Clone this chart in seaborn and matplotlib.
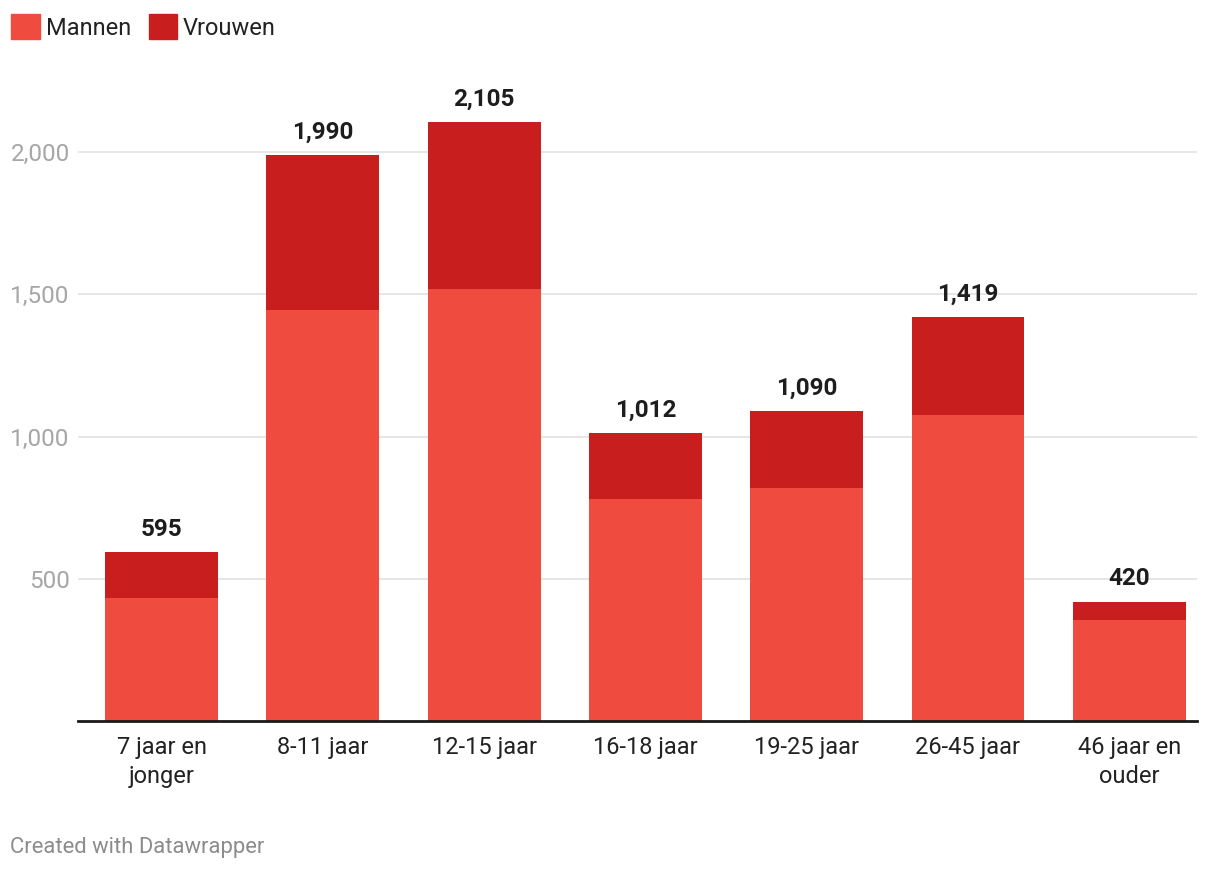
import matplotlib
matplotlib.use("Agg")
import matplotlib.pyplot as plt
import seaborn as sns
import pandas as pd
from matplotlib.patches import Rectangle

categories = ["7 jaar en\njonger", "8-11 jaar", "12-15 jaar", "16-18 jaar",
              "19-25 jaar", "26-45 jaar", "46 jaar en\nouder"]
mannen = [433, 1445, 1518, 780, 819, 1076, 355]
totaal = [595, 1990, 2105, 1012, 1090, 1419, 420]
vrouwen = [t - m for t, m in zip(totaal, mannen)]
yticks = [500, 1000, 1500, 2000]
series_names = ["Mannen", "Vrouwen"]

c_m = "#ef4b3e"
c_v = "#c81e1e"

sns.set_theme(style="white")
plt.rcParams["font.family"] = ["Roboto", "DejaVu Sans"]

df = pd.DataFrame({"cat": categories, "mannen": mannen, "vrouwen": vrouwen, "totaal": totaal})

fig = plt.figure(figsize=(12.2, 8.72), dpi=100)
W, H = 1220, 872
ymax = 2250
ax = fig.add_axes([78 / W, (H - 721) / H, (1197 - 78) / W, (721 - 81) / H])

# stacked: total bar (Vrouwen colour) then Mannen on top
sns.barplot(data=df, x="cat", y="totaal", color=c_v, width=0.70, ax=ax,
            saturation=1, linewidth=0)
tot_container = ax.containers[0]
sns.barplot(data=df, x="cat", y="mannen", color=c_m, width=0.70, ax=ax,
            saturation=1, linewidth=0)

ax.set_xlim(-0.518, 6.42)
ax.set_ylim(0, ymax)
ax.set_yticks(yticks)
ax.set_yticklabels([f"{v:,}" for v in yticks], color="#a6a6a6", fontsize=17.5)
ax.tick_params(axis="y", length=0, pad=6)
ax.tick_params(axis="x", length=0, pad=11, labelsize=17, labelcolor="#222222")
ax.set_xlabel("")
ax.set_ylabel("")
ax.grid(axis="y", color="#e2e2e2", linewidth=1.2)
ax.set_axisbelow(True)
for s in ["top", "right", "left"]:
    ax.spines[s].set_visible(False)
ax.spines["bottom"].set_color("#1a1a1a")
ax.spines["bottom"].set_linewidth(2.0)
for lbl in ax.get_xticklabels():
    lbl.set_linespacing(1.3)

ax.bar_label(tot_container, labels=[f"{v:,}" for v in totaal], padding=8,
             fontsize=17.5, fontweight="bold", color="#1d1d1d")

# legend
handles = [Rectangle((0, 0), 1, 1, color=c_m), Rectangle((0, 0), 1, 1, color=c_v)]
fig.legend(handles, series_names, loc="upper left", bbox_to_anchor=(2 / W, 1 - 5 / H),
           ncol=2, frameon=False, fontsize=17, handlelength=1.2, handleheight=1.2,
           handletextpad=0.25, columnspacing=0.75, borderaxespad=0, labelcolor="#222222")

fig.text(10 / W, 1 - 847 / H, "Created with Datawrapper", fontsize=15.8,
         color="#8c8c8c", va="center", ha="left")

fig.savefig("out.png", dpi=100)
